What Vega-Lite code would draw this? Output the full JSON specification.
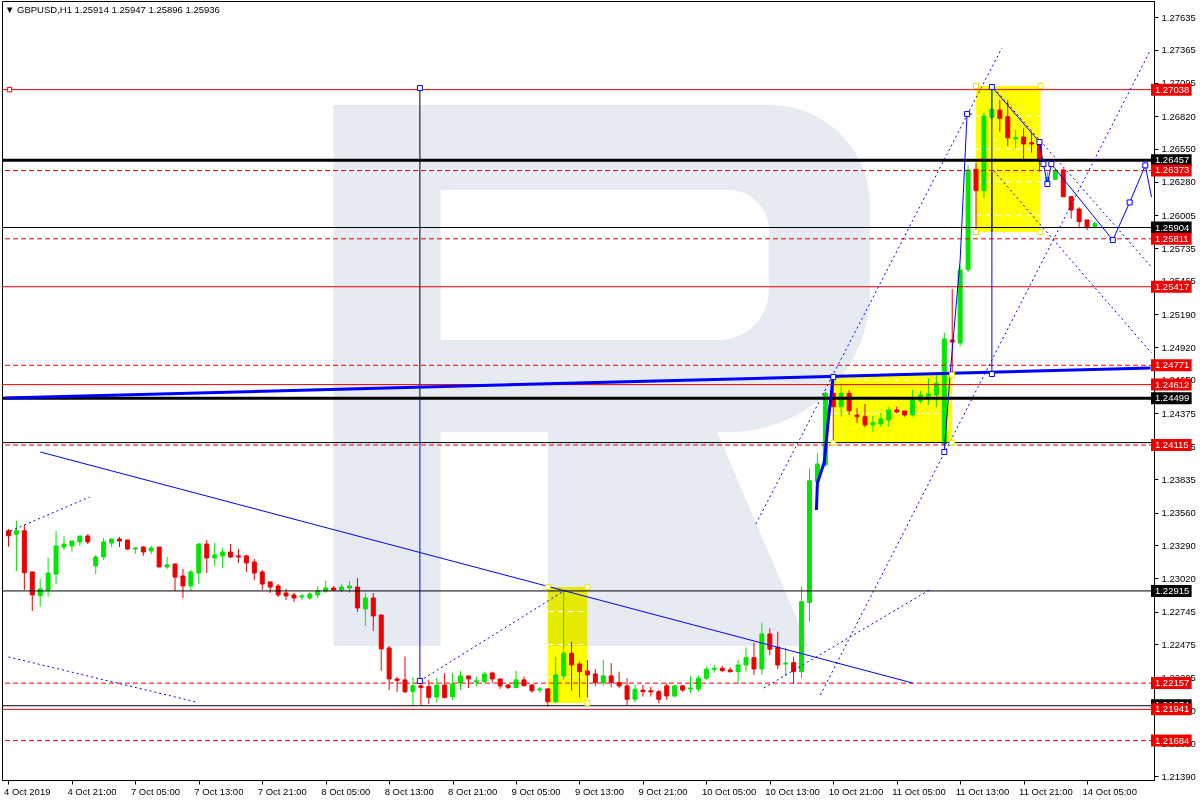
{
"$schema": "https://vega.github.io/schema/vega-lite/v6.json",
"width": 1152, "height": 779,
"autosize": "none",
"padding": {"left": 2, "top": 1, "right": 46, "bottom": 20},
"background": "white",
"config": {"view": {"stroke": "#000000", "strokeWidth": 1}, "font": "Liberation Sans", "axis": {"labelOverlap": false, "labelSeparation": 0}},
"title": {"text": "▼ GBPUSD,H1  1.25914 1.25947 1.25896 1.25936", "anchor": "start", "frame": "group", "offset": -13, "dx": 3, "fontSize": 9.5, "fontWeight": "normal", "font": "Liberation Sans", "color": "#000000"},
"datasets": {
"candles": [
{"i":0,"o":1.23410,"h":1.23424,"l":1.23279,"c":1.23369},
{"i":1,"o":1.23381,"h":1.23491,"l":1.23079,"c":1.23410},
{"i":2,"o":1.23410,"h":1.23458,"l":1.22923,"c":1.23065},
{"i":3,"o":1.23071,"h":1.23071,"l":1.22750,"c":1.22882},
{"i":4,"o":1.22876,"h":1.23013,"l":1.22786,"c":1.22931},
{"i":5,"o":1.22923,"h":1.23189,"l":1.22868,"c":1.23062},
{"i":6,"o":1.23054,"h":1.23408,"l":1.22972,"c":1.23285},
{"i":7,"o":1.23276,"h":1.23367,"l":1.23252,"c":1.23301},
{"i":8,"o":1.23285,"h":1.23326,"l":1.23238,"c":1.23326},
{"i":9,"o":1.23318,"h":1.23367,"l":1.23285,"c":1.23367},
{"i":10,"o":1.23367,"h":1.23383,"l":1.23301,"c":1.23318},
{"i":11,"o":1.23121,"h":1.23211,"l":1.23054,"c":1.23194},
{"i":12,"o":1.23194,"h":1.23350,"l":1.23170,"c":1.23318},
{"i":13,"o":1.23309,"h":1.23342,"l":1.23276,"c":1.23342},
{"i":14,"o":1.23342,"h":1.23359,"l":1.23276,"c":1.23326},
{"i":15,"o":1.23334,"h":1.23334,"l":1.23252,"c":1.23260},
{"i":16,"o":1.23260,"h":1.23276,"l":1.23219,"c":1.23268},
{"i":17,"o":1.23276,"h":1.23285,"l":1.23203,"c":1.23235},
{"i":18,"o":1.23244,"h":1.23285,"l":1.23219,"c":1.23268},
{"i":19,"o":1.23276,"h":1.23276,"l":1.23112,"c":1.23112},
{"i":20,"o":1.23112,"h":1.23194,"l":1.23096,"c":1.23129},
{"i":21,"o":1.23137,"h":1.23137,"l":1.22915,"c":1.23029},
{"i":22,"o":1.23038,"h":1.23096,"l":1.22857,"c":1.22956},
{"i":23,"o":1.22956,"h":1.23087,"l":1.22915,"c":1.23071},
{"i":24,"o":1.23062,"h":1.23309,"l":1.22972,"c":1.23301},
{"i":25,"o":1.23301,"h":1.23334,"l":1.23062,"c":1.23186},
{"i":26,"o":1.23186,"h":1.23309,"l":1.23121,"c":1.23211},
{"i":27,"o":1.23203,"h":1.23268,"l":1.23104,"c":1.23235},
{"i":28,"o":1.23235,"h":1.23301,"l":1.23186,"c":1.23194},
{"i":29,"o":1.23203,"h":1.23260,"l":1.23145,"c":1.23194},
{"i":30,"o":1.23203,"h":1.23211,"l":1.23071,"c":1.23145},
{"i":31,"o":1.23153,"h":1.23178,"l":1.23005,"c":1.23062},
{"i":32,"o":1.23071,"h":1.23087,"l":1.22923,"c":1.22972},
{"i":33,"o":1.22989,"h":1.22989,"l":1.22898,"c":1.22947},
{"i":34,"o":1.22956,"h":1.22972,"l":1.22865,"c":1.22882},
{"i":35,"o":1.22898,"h":1.22931,"l":1.22841,"c":1.22874},
{"i":36,"o":1.22882,"h":1.22898,"l":1.22824,"c":1.22857},
{"i":37,"o":1.22865,"h":1.22890,"l":1.22841,"c":1.22874},
{"i":38,"o":1.22857,"h":1.22906,"l":1.22841,"c":1.22890},
{"i":39,"o":1.22882,"h":1.22956,"l":1.22857,"c":1.22915},
{"i":40,"o":1.22915,"h":1.22997,"l":1.22898,"c":1.22939},
{"i":41,"o":1.22939,"h":1.22956,"l":1.22915,"c":1.22923},
{"i":42,"o":1.22923,"h":1.22972,"l":1.22906,"c":1.22947},
{"i":43,"o":1.22939,"h":1.22997,"l":1.22898,"c":1.22956},
{"i":44,"o":1.22947,"h":1.23021,"l":1.22742,"c":1.22775},
{"i":45,"o":1.22767,"h":1.22898,"l":1.22627,"c":1.22857},
{"i":46,"o":1.22857,"h":1.22898,"l":1.22586,"c":1.22709},
{"i":47,"o":1.22717,"h":1.22717,"l":1.22257,"c":1.22438},
{"i":48,"o":1.22446,"h":1.22462,"l":1.22100,"c":1.22191},
{"i":49,"o":1.22191,"h":1.22208,"l":1.22084,"c":1.22179},
{"i":50,"o":1.22183,"h":1.22374,"l":1.22073,"c":1.22086},
{"i":51,"o":1.22086,"h":1.22208,"l":1.21977,"c":1.22134},
{"i":52,"o":1.22134,"h":1.22199,"l":1.21977,"c":1.22120},
{"i":53,"o":1.22128,"h":1.22183,"l":1.21985,"c":1.22040},
{"i":54,"o":1.22043,"h":1.22199,"l":1.21996,"c":1.22141},
{"i":55,"o":1.22141,"h":1.22240,"l":1.22034,"c":1.22037},
{"i":56,"o":1.22045,"h":1.22240,"l":1.22018,"c":1.22150},
{"i":57,"o":1.22158,"h":1.22257,"l":1.22100,"c":1.22216},
{"i":58,"o":1.22216,"h":1.22216,"l":1.22117,"c":1.22191},
{"i":59,"o":1.22166,"h":1.22210,"l":1.22128,"c":1.22175},
{"i":60,"o":1.22169,"h":1.22251,"l":1.22158,"c":1.22232},
{"i":61,"o":1.22240,"h":1.22251,"l":1.22161,"c":1.22191},
{"i":62,"o":1.22191,"h":1.22191,"l":1.22109,"c":1.22134},
{"i":63,"o":1.22141,"h":1.22150,"l":1.22109,"c":1.22120},
{"i":64,"o":1.22120,"h":1.22259,"l":1.22117,"c":1.22183},
{"i":65,"o":1.22183,"h":1.22210,"l":1.22128,"c":1.22136},
{"i":66,"o":1.22141,"h":1.22150,"l":1.22078,"c":1.22094},
{"i":67,"o":1.22100,"h":1.22128,"l":1.22078,"c":1.22109},
{"i":68,"o":1.22109,"h":1.22114,"l":1.21963,"c":1.22004},
{"i":69,"o":1.22004,"h":1.22374,"l":1.21991,"c":1.22224},
{"i":70,"o":1.22216,"h":1.22909,"l":1.22183,"c":1.22402},
{"i":71,"o":1.22402,"h":1.22498,"l":1.22094,"c":1.22306},
{"i":72,"o":1.22314,"h":1.22333,"l":1.22040,"c":1.22251},
{"i":73,"o":1.22257,"h":1.22347,"l":1.22040,"c":1.22224},
{"i":74,"o":1.22232,"h":1.22273,"l":1.22134,"c":1.22161},
{"i":75,"o":1.22161,"h":1.22347,"l":1.22134,"c":1.22216},
{"i":76,"o":1.22216,"h":1.22322,"l":1.22123,"c":1.22161},
{"i":77,"o":1.22161,"h":1.22251,"l":1.22114,"c":1.22134},
{"i":78,"o":1.22134,"h":1.22197,"l":1.21977,"c":1.22024},
{"i":79,"o":1.22024,"h":1.22141,"l":1.21996,"c":1.22106},
{"i":80,"o":1.22100,"h":1.22141,"l":1.22045,"c":1.22086},
{"i":81,"o":1.22094,"h":1.22128,"l":1.22045,"c":1.22084},
{"i":82,"o":1.22086,"h":1.22100,"l":1.21991,"c":1.22024},
{"i":83,"o":1.22134,"h":1.22156,"l":1.22018,"c":1.22051},
{"i":84,"o":1.22051,"h":1.22141,"l":1.22040,"c":1.22134},
{"i":85,"o":1.22134,"h":1.22141,"l":1.22086,"c":1.22100},
{"i":86,"o":1.22109,"h":1.22216,"l":1.22073,"c":1.22117},
{"i":87,"o":1.22109,"h":1.22216,"l":1.22086,"c":1.22197},
{"i":88,"o":1.22197,"h":1.22292,"l":1.22183,"c":1.22271},
{"i":89,"o":1.22271,"h":1.22306,"l":1.22243,"c":1.22279},
{"i":90,"o":1.22279,"h":1.22298,"l":1.22251,"c":1.22259},
{"i":91,"o":1.22265,"h":1.22287,"l":1.22243,"c":1.22251},
{"i":92,"o":1.22251,"h":1.22347,"l":1.22150,"c":1.22306},
{"i":93,"o":1.22306,"h":1.22451,"l":1.22251,"c":1.22366},
{"i":94,"o":1.22366,"h":1.22489,"l":1.22224,"c":1.22273},
{"i":95,"o":1.22273,"h":1.22654,"l":1.22224,"c":1.22561},
{"i":96,"o":1.22561,"h":1.22608,"l":1.22388,"c":1.22435},
{"i":97,"o":1.22451,"h":1.22580,"l":1.22271,"c":1.22306},
{"i":98,"o":1.22314,"h":1.22451,"l":1.22216,"c":1.22322},
{"i":99,"o":1.22325,"h":1.22374,"l":1.22150,"c":1.22251},
{"i":100,"o":1.22251,"h":1.22950,"l":1.22194,"c":1.22827},
{"i":101,"o":1.22819,"h":1.23924,"l":1.22662,"c":1.23821},
{"i":102,"o":1.23813,"h":1.24047,"l":1.23778,"c":1.23959},
{"i":103,"o":1.23951,"h":1.24554,"l":1.23935,"c":1.24541},
{"i":104,"o":1.24541,"h":1.24683,"l":1.24131,"c":1.24430},
{"i":105,"o":1.24430,"h":1.24620,"l":1.24348,"c":1.24541},
{"i":106,"o":1.24541,"h":1.24568,"l":1.24362,"c":1.24397},
{"i":107,"o":1.24362,"h":1.24420,"l":1.24294,"c":1.24348},
{"i":108,"o":1.24348,"h":1.24453,"l":1.24260,"c":1.24280},
{"i":109,"o":1.24280,"h":1.24354,"l":1.24225,"c":1.24299},
{"i":110,"o":1.24288,"h":1.24376,"l":1.24263,"c":1.24329},
{"i":111,"o":1.24321,"h":1.24430,"l":1.24263,"c":1.24403},
{"i":112,"o":1.24403,"h":1.24430,"l":1.24376,"c":1.24387},
{"i":113,"o":1.24395,"h":1.24395,"l":1.24348,"c":1.24362},
{"i":114,"o":1.24362,"h":1.24568,"l":1.24348,"c":1.24485},
{"i":115,"o":1.24479,"h":1.24559,"l":1.24458,"c":1.24526},
{"i":116,"o":1.24518,"h":1.24664,"l":1.24444,"c":1.24535},
{"i":117,"o":1.24526,"h":1.24691,"l":1.24425,"c":1.24623},
{"i":118,"o":1.24123,"h":1.25039,"l":1.24090,"c":1.24987},
{"i":119,"o":1.24979,"h":1.25398,"l":1.24707,"c":1.24963},
{"i":120,"o":1.24954,"h":1.25595,"l":1.24925,"c":1.25554},
{"i":121,"o":1.25557,"h":1.26414,"l":1.25538,"c":1.26377},
{"i":122,"o":1.26383,"h":1.26437,"l":1.25889,"c":1.26207},
{"i":123,"o":1.26207,"h":1.26848,"l":1.26144,"c":1.26821},
{"i":124,"o":1.26810,"h":1.27050,"l":1.26780,"c":1.26876},
{"i":125,"o":1.26870,"h":1.26953,"l":1.26692,"c":1.26802},
{"i":126,"o":1.26815,"h":1.26953,"l":1.26574,"c":1.26643},
{"i":127,"o":1.26632,"h":1.26706,"l":1.26555,"c":1.26643},
{"i":128,"o":1.26648,"h":1.26720,"l":1.26459,"c":1.26591},
{"i":129,"o":1.26601,"h":1.26692,"l":1.26519,"c":1.26591},
{"i":130,"o":1.26596,"h":1.26596,"l":1.26363,"c":1.26459},
{"i":131,"o":1.26259,"h":1.26360,"l":1.26251,"c":1.26314},
{"i":132,"o":1.26301,"h":1.26382,"l":1.26295,"c":1.26371},
{"i":133,"o":1.26377,"h":1.26391,"l":1.26153,"c":1.26158},
{"i":134,"o":1.26158,"h":1.26158,"l":1.25976,"c":1.26048},
{"i":135,"o":1.26056,"h":1.26070,"l":1.25897,"c":1.25952},
{"i":136,"o":1.25966,"h":1.25966,"l":1.25883,"c":1.25911},
{"i":137,"o":1.25914,"h":1.25947,"l":1.25896,"c":1.25936}
],
"wmBowl": [{"x1":41,"x2":108.625,"p1":1.26911,"p2":1.24222}],
"wmStem": [{"x1":41,"x2":54.5,"p1":1.26911,"p2":1.22462}],
"wmHole": [{"x1":54.5,"x2":95.875,"p1":1.26212,"p2":1.24979}],
"wmLeg": [{"x":68,"p1":1.24239,"p2":1.22462},{"x":89.25,"p1":1.24239,"p2":1.22462},{"x":100.875,"p1":1.22462,"p2":1.22462}],
"boxes": [{"x1":68,"x2":73,"p1":1.22948,"p2":1.21994},{"x1":104,"x2":119,"p1":1.24691,"p2":1.24134},{"x1":122,"x2":130.125,"p1":1.27068,"p2":1.25867}],
"boxGrid": [{"x1":68,"x2":73,"p":1.22745},{"x1":68,"x2":73,"p":1.22475},{"x1":68,"x2":73,"p":1.22205},{"x1":104,"x2":119,"p":1.24650},{"x1":104,"x2":119,"p":1.24375},{"x1":122,"x2":130.125,"p":1.26820},{"x1":122,"x2":130.125,"p":1.26550},{"x1":122,"x2":130.125,"p":1.26280},{"x1":122,"x2":130.125,"p":1.26005}],
"redSolid": [{"p":1.27038},{"p":1.25417},{"p":1.24612},{"p":1.21941}],
"redDash": [{"p":1.26373},{"p":1.25811},{"p":1.24771},{"p":1.24115},{"p":1.22157},{"p":1.21684}],
"blackThin": [{"p":1.25904},{"p":1.24135},{"p":1.22915},{"p":1.21971}],
"blackThick": [{"p":1.26457},{"p":1.24499}],
"blueThick": [{"s":"t1","x":-0.375,"p":1.24502},{"s":"t1","x":144,"p":1.24748},{"s":"t2","x":101.875,"p":1.23581},{"s":"t2","x":102,"p":1.23803},{"s":"t2","x":102.875,"p":1.23976},{"s":"t2","x":103.375,"p":1.24321},{"s":"t2","x":104,"p":1.24683}],
"blueThin": [
{"s":"s1","x":4,"p":1.24058},{"s":"s1","x":114,"p":1.22158},
{"s":"s2","x":51.875,"p":1.24502},{"s":"s2","x":51.875,"p":1.22175},
{"s":"s3","x":124,"p":1.27060},{"s":"s3","x":124,"p":1.24699},
{"s":"s4","x":118,"p":1.24058},{"s":"s4","x":118.75,"p":1.24707},{"s":"s4","x":120,"p":1.25637},{"s":"s4","x":120.875,"p":1.26837},{"s":"s4","x":121.5,"p":1.26837},
{"s":"s5","x":124,"p":1.27060},{"s":"s5","x":130,"p":1.26607},{"s":"s5","x":130.5,"p":1.26426},{"s":"s5","x":131,"p":1.26262},{"s":"s5","x":131.5,"p":1.26426},{"s":"s5","x":139.25,"p":1.25801},{"s":"s5","x":141.375,"p":1.26110},{"s":"s5","x":143.35,"p":1.26415},{"s":"s5","x":144.125,"p":1.26155}
],
"blueDot": [
{"s":"d1","x":0.25,"p":1.23408},{"s":"d1","x":10.25,"p":1.23688},
{"s":"d2","x":0,"p":1.22372},{"s":"d2","x":23.625,"p":1.22002},
{"s":"d3","x":51.875,"p":1.22175},{"s":"d3","x":70.25,"p":1.22923},
{"s":"d4","x":94.25,"p":1.23466},{"s":"d4","x":125.25,"p":1.27380},
{"s":"d5","x":102.375,"p":1.22059},{"s":"d5","x":144,"p":1.27364},
{"s":"d6","x":95.25,"p":1.22117},{"s":"d6","x":116.125,"p":1.22923},
{"s":"d7","x":124.25,"p":1.27051},{"s":"d7","x":144.125,"p":1.25579},
{"s":"d8","x":124.25,"p":1.26369},{"s":"d8","x":144.125,"p":1.24872}
],
"blackVert": [{"s":"b1","x":51.875,"p":1.27051},{"s":"b1","x":51.875,"p":1.24502},{"s":"b2","x":124,"p":1.26360},{"s":"b2","x":124,"p":1.25867}],
"blueMarks": [{"x":51.875,"p":1.27051},{"x":51.875,"p":1.22175},{"x":104,"p":1.24675},{"x":118,"p":1.24058},{"x":120.875,"p":1.26837},{"x":124,"p":1.27060},{"x":124,"p":1.24699},{"x":130,"p":1.26607},{"x":130.5,"p":1.26426},{"x":131,"p":1.26262},{"x":131.5,"p":1.26426},{"x":139.25,"p":1.25801},{"x":141.375,"p":1.26110},{"x":143.35,"p":1.26415}],
"yellowMarks": [{"x":68,"p":1.22948},{"x":73,"p":1.22948},{"x":73,"p":1.21994},{"x":104,"p":1.24134},{"x":119,"p":1.24691},{"x":119,"p":1.24134},{"x":122,"p":1.27068},{"x":130.125,"p":1.27068},{"x":122,"p":1.25867},{"x":130.125,"p":1.25867}],
"redMarks": [{"x":0.125,"p":1.27038}],
"labBlack": [{"p":1.26457},{"p":1.25904},{"p":1.24499},{"p":1.22915},{"p":1.21974}],
"labRed": [{"p":1.27038},{"p":1.26373},{"p":1.25811},{"p":1.25417},{"p":1.24771},{"p":1.24612},{"p":1.24115},{"p":1.22157},{"p":1.21941},{"p":1.21684}]
},
"layer": [
{"data": {"name": "wmBowl"},
 "mark": {"type": "rect", "color": "#e6eaf2", "cornerRadiusTopRight": 100, "cornerRadiusBottomRight": 140},
 "encoding": {
  "x": {"field": "x1", "type": "quantitative",
        "scale": {"domain": [-0.1875, 143.8125], "nice": false, "zero": false},
        "axis": {"title": null, "orient": "bottom", "values": [0,8,16,24,32,40,48,56,64,72,80,88,96,104,112,120,128,136], "tickCount": 60,
                 "labelExpr": "['4 Oct 2019','4 Oct 21:00','7 Oct 05:00','7 Oct 13:00','7 Oct 21:00','8 Oct 05:00','8 Oct 13:00','8 Oct 21:00','9 Oct 05:00','9 Oct 13:00','9 Oct 21:00','10 Oct 05:00','10 Oct 13:00','10 Oct 21:00','11 Oct 05:00','11 Oct 13:00','11 Oct 21:00','14 Oct 05:00'][round(datum.value/8)]",
                 "labelAlign": "left", "labelFont": "Liberation Sans", "labelFontSize": 9.5, "labelColor": "#000000",
                 "tickColor": "#000000", "tickSize": 4, "domainColor": "#000000", "labelPadding": 2, "labelOffset": -5,
                 "labelFlush": false, "labelOverlap": false, "labelBound": false, "grid": false}},
  "x2": {"field": "x2"},
  "y": {"field": "p1", "type": "quantitative",
        "scale": {"domain": [1.21360, 1.27767], "nice": false, "zero": false},
        "axis": {"title": null, "orient": "right", "tickCount": 60,
                 "values": [1.27635,1.27365,1.27095,1.26820,1.26550,1.26280,1.26005,1.25735,1.25465,1.25190,1.24920,1.24650,1.24375,1.24105,1.23835,1.23560,1.23290,1.23020,1.22745,1.22475,1.22205,1.21930,1.21660,1.21390],
                 "format": ".5f", "labelFont": "Liberation Sans", "labelFontSize": 9.5, "labelColor": "#000000",
                 "tickColor": "#000000", "tickSize": 4, "domainColor": "#000000", "labelPadding": 3,
                 "labelFlush": false, "labelOverlap": false, "labelBound": false, "grid": false, "labelBaseline": "middle", "labelSeparation": 0}},
  "y2": {"field": "p2"}
 }},
{"data": {"name": "wmStem"}, "mark": {"type": "rect", "color": "#e6eaf2"},
 "encoding": {"x": {"field": "x1", "type": "quantitative"}, "x2": {"field": "x2"}, "y": {"field": "p1", "type": "quantitative"}, "y2": {"field": "p2"}}},
{"data": {"name": "wmHole"}, "mark": {"type": "rect", "color": "#ffffff", "cornerRadiusTopRight": 40, "cornerRadiusBottomRight": 50},
 "encoding": {"x": {"field": "x1", "type": "quantitative"}, "x2": {"field": "x2"}, "y": {"field": "p1", "type": "quantitative"}, "y2": {"field": "p2"}}},
{"data": {"name": "wmLeg"}, "mark": {"type": "area", "color": "#e6eaf2"},
 "encoding": {"x": {"field": "x", "type": "quantitative"}, "y": {"field": "p1", "type": "quantitative"}, "y2": {"field": "p2"}}},
{"data": {"name": "boxes"}, "mark": {"type": "rect", "color": "#ffff00", "blend": "multiply"},
 "encoding": {"x": {"field": "x1", "type": "quantitative"}, "x2": {"field": "x2"}, "y": {"field": "p1", "type": "quantitative"}, "y2": {"field": "p2"}}},
{"data": {"name": "boxGrid"}, "mark": {"type": "rule", "color": "#ffffff", "strokeWidth": 1, "strokeDash": [6, 4]},
 "encoding": {"x": {"field": "x1", "type": "quantitative"}, "x2": {"field": "x2"}, "y": {"field": "p", "type": "quantitative"}}},
{"data": {"name": "candles"}, "mark": {"type": "rule", "strokeWidth": 1},
 "encoding": {"x": {"field": "i", "type": "quantitative"}, "y": {"field": "l", "type": "quantitative"}, "y2": {"field": "h"},
  "color": {"condition": {"test": "datum.c >= datum.o", "value": "#00e600"}, "value": "#ec0000"}}},
{"data": {"name": "candles"}, "mark": {"type": "bar", "size": 4, "strokeWidth": 1},
 "encoding": {"x": {"field": "i", "type": "quantitative"}, "y": {"field": "o", "type": "quantitative"}, "y2": {"field": "c"},
  "color": {"condition": {"test": "datum.c >= datum.o", "value": "#00e600"}, "value": "#ec0000"},
  "stroke": {"condition": {"test": "datum.c >= datum.o", "value": "#00e600"}, "value": "#ec0000"}}},
{"data": {"name": "redSolid"}, "mark": {"type": "rule", "color": "#ee0000", "strokeWidth": 1},
 "encoding": {"y": {"field": "p", "type": "quantitative"}}},
{"data": {"name": "redDash"}, "mark": {"type": "rule", "color": "#ee0000", "strokeWidth": 1, "strokeDash": [5, 3]},
 "encoding": {"y": {"field": "p", "type": "quantitative"}}},
{"data": {"name": "blackThin"}, "mark": {"type": "rule", "color": "#000000", "strokeWidth": 1},
 "encoding": {"y": {"field": "p", "type": "quantitative"}}},
{"data": {"name": "blackThick"}, "mark": {"type": "rule", "color": "#000000", "strokeWidth": 3},
 "encoding": {"y": {"field": "p", "type": "quantitative"}}},
{"data": {"name": "blackVert"}, "mark": {"type": "line", "color": "#000000", "strokeWidth": 1},
 "encoding": {"x": {"field": "x", "type": "quantitative"}, "y": {"field": "p", "type": "quantitative"}, "detail": {"field": "s", "type": "nominal"}}},
{"data": {"name": "blueThin"}, "mark": {"type": "line", "color": "#0000ff", "strokeWidth": 1},
 "encoding": {"x": {"field": "x", "type": "quantitative"}, "y": {"field": "p", "type": "quantitative"}, "detail": {"field": "s", "type": "nominal"}}},
{"data": {"name": "blueDot"}, "mark": {"type": "line", "color": "#0000ff", "strokeWidth": 1, "strokeDash": [2, 3]},
 "encoding": {"x": {"field": "x", "type": "quantitative"}, "y": {"field": "p", "type": "quantitative"}, "detail": {"field": "s", "type": "nominal"}}},
{"data": {"name": "blueThick"}, "mark": {"type": "line", "color": "#0000ff", "strokeWidth": 3},
 "encoding": {"x": {"field": "x", "type": "quantitative"}, "y": {"field": "p", "type": "quantitative"}, "detail": {"field": "s", "type": "nominal"}}},
{"data": {"name": "blueMarks"}, "mark": {"type": "point", "shape": "square", "size": 25, "filled": true, "fill": "#ffffff", "stroke": "#0000ff", "strokeWidth": 1, "opacity": 1},
 "encoding": {"x": {"field": "x", "type": "quantitative"}, "y": {"field": "p", "type": "quantitative"}}},
{"data": {"name": "yellowMarks"}, "mark": {"type": "point", "shape": "square", "size": 25, "filled": true, "fill": "#ffffff", "stroke": "#e6e600", "strokeWidth": 1, "opacity": 1},
 "encoding": {"x": {"field": "x", "type": "quantitative"}, "y": {"field": "p", "type": "quantitative"}}},
{"data": {"name": "redMarks"}, "mark": {"type": "point", "shape": "square", "size": 20, "filled": true, "fill": "#ffffff", "stroke": "#ee0000", "strokeWidth": 1, "opacity": 1},
 "encoding": {"x": {"field": "x", "type": "quantitative"}, "y": {"field": "p", "type": "quantitative"}}},
{"data": {"name": "labBlack"}, "mark": {"type": "rule", "color": "#000000", "strokeWidth": 12},
 "encoding": {"y": {"field": "p", "type": "quantitative"}, "x": {"datum": 144.0625, "type": "quantitative"}, "x2": {"datum": 149.1875}}},
{"data": {"name": "labBlack"}, "mark": {"type": "text", "color": "#ffffff", "align": "left", "baseline": "middle", "fontSize": 9.5, "font": "Liberation Sans"},
 "encoding": {"y": {"field": "p", "type": "quantitative"}, "x": {"datum": 144.5625, "type": "quantitative"}, "text": {"field": "p", "type": "quantitative", "format": ".5f"}}},
{"data": {"name": "labRed"}, "mark": {"type": "rule", "color": "#ee0000", "strokeWidth": 12},
 "encoding": {"y": {"field": "p", "type": "quantitative"}, "x": {"datum": 144.0625, "type": "quantitative"}, "x2": {"datum": 149.1875}}},
{"data": {"name": "labRed"}, "mark": {"type": "text", "color": "#ffffff", "align": "left", "baseline": "middle", "fontSize": 9.5, "font": "Liberation Sans"},
 "encoding": {"y": {"field": "p", "type": "quantitative"}, "x": {"datum": 144.5625, "type": "quantitative"}, "text": {"field": "p", "type": "quantitative", "format": ".5f"}}}
]
}
